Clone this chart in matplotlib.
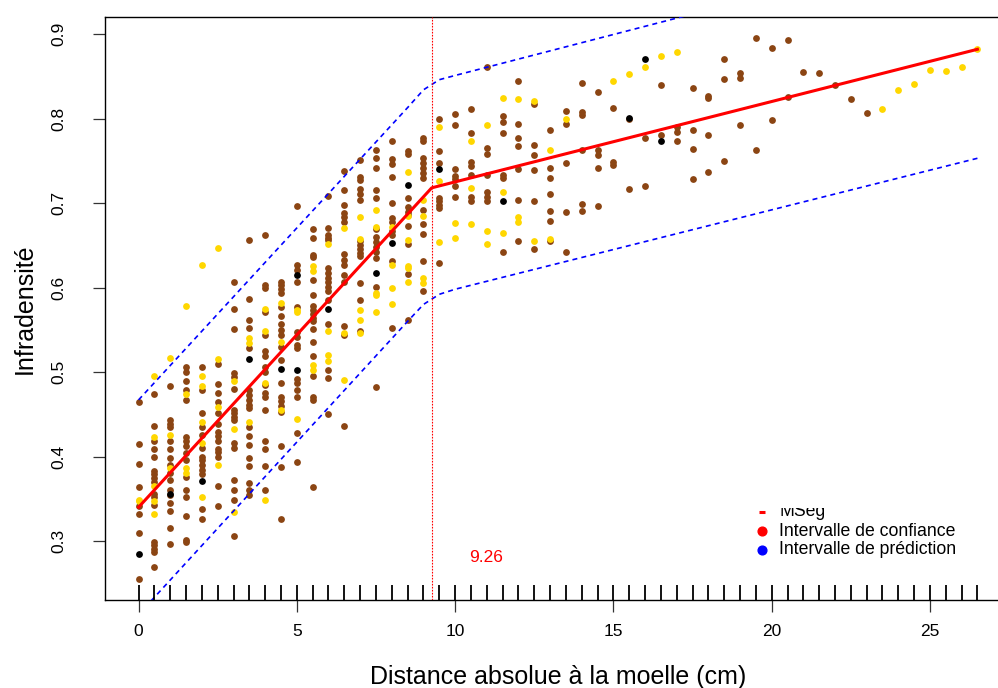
import numpy as np
import matplotlib
matplotlib.use("Agg")
import matplotlib.pyplot as plt
from matplotlib.patches import Rectangle
import matplotlib.transforms as mtransforms

plt.rcParams['font.family'] = ['Liberation Sans', 'DejaVu Sans']

# ---------------- data ----------------
brown = {
    0.0: [0.465, 0.415, 0.391, 0.364, 0.341, 0.332, 0.310, 0.255],
    0.5: [0.474, 0.436, 0.418, 0.409, 0.399, 0.383, 0.379, 0.374, 0.370, 0.356, 0.352, 0.343, 0.299, 0.295, 0.290, 0.287, 0.269],
    1.0: [0.484, 0.443, 0.439, 0.435, 0.418, 0.409, 0.398, 0.390, 0.380, 0.372, 0.360, 0.354, 0.345, 0.335, 0.316, 0.297],
    1.5: [0.506, 0.500, 0.489, 0.479, 0.467, 0.423, 0.418, 0.412, 0.404, 0.396, 0.376, 0.360, 0.352, 0.330, 0.301, 0.299],
    2.0: [0.506, 0.479, 0.451, 0.435, 0.425, 0.410, 0.400, 0.396, 0.390, 0.384, 0.379, 0.338, 0.326],
    2.5: [0.510, 0.486, 0.475, 0.464, 0.451, 0.439, 0.429, 0.424, 0.418, 0.409, 0.405, 0.399, 0.365, 0.341],
    3.0: [0.607, 0.575, 0.551, 0.499, 0.494, 0.480, 0.455, 0.451, 0.447, 0.443, 0.416, 0.410, 0.372, 0.360, 0.349, 0.306],
    3.5: [0.656, 0.587, 0.561, 0.552, 0.529, 0.479, 0.473, 0.467, 0.461, 0.457, 0.435, 0.424, 0.414, 0.398, 0.389, 0.369, 0.360, 0.355],
    4.0: [0.662, 0.603, 0.599, 0.571, 0.544, 0.525, 0.519, 0.506, 0.500, 0.485, 0.475, 0.470, 0.455, 0.418, 0.409, 0.389, 0.360],
    4.5: [0.607, 0.603, 0.598, 0.593, 0.577, 0.566, 0.557, 0.550, 0.544, 0.530, 0.514, 0.487, 0.471, 0.466, 0.460, 0.453, 0.412, 0.388, 0.326],
    5.0: [0.696, 0.627, 0.621, 0.607, 0.577, 0.547, 0.541, 0.532, 0.528, 0.492, 0.487, 0.479, 0.471, 0.428, 0.393],
    5.5: [0.669, 0.659, 0.639, 0.636, 0.609, 0.591, 0.578, 0.573, 0.569, 0.564, 0.560, 0.551, 0.536, 0.519, 0.495, 0.470, 0.467, 0.364],
    6.0: [0.708, 0.671, 0.662, 0.659, 0.656, 0.623, 0.617, 0.611, 0.606, 0.601, 0.596, 0.585, 0.557, 0.502, 0.493, 0.450],
    6.5: [0.738, 0.715, 0.698, 0.688, 0.683, 0.678, 0.640, 0.633, 0.627, 0.615, 0.606, 0.554, 0.544, 0.436],
    7.0: [0.751, 0.731, 0.727, 0.717, 0.711, 0.704, 0.655, 0.650, 0.646, 0.641, 0.637, 0.605, 0.585, 0.548],
    7.5: [0.763, 0.753, 0.741, 0.716, 0.706, 0.669, 0.660, 0.654, 0.648, 0.642, 0.635, 0.601, 0.482],
    8.0: [0.774, 0.752, 0.746, 0.731, 0.700, 0.682, 0.678, 0.667, 0.662, 0.631, 0.552],
    8.5: [0.762, 0.758, 0.706, 0.695, 0.690, 0.686, 0.673, 0.652, 0.616, 0.561],
    9.0: [0.777, 0.773, 0.753, 0.747, 0.741, 0.735, 0.730, 0.692, 0.675, 0.663, 0.631, 0.596],
    9.5: [0.800, 0.762, 0.747, 0.706, 0.702, 0.698, 0.694, 0.629],
    10.0: [0.805, 0.792, 0.740, 0.732, 0.728, 0.720, 0.707],
    10.5: [0.811, 0.783, 0.749, 0.744, 0.733, 0.707, 0.702],
    11.0: [0.861, 0.765, 0.758, 0.733, 0.713, 0.707, 0.702],
    11.5: [0.803, 0.796, 0.783, 0.733, 0.730, 0.642],
    12.0: [0.844, 0.794, 0.777, 0.767, 0.740, 0.704, 0.655],
    12.5: [0.817, 0.769, 0.757, 0.739, 0.702, 0.646],
    13.0: [0.786, 0.742, 0.730, 0.711, 0.691, 0.679, 0.655],
    13.5: [0.809, 0.793, 0.747, 0.690, 0.642],
    14.0: [0.842, 0.808, 0.804, 0.763, 0.699, 0.691],
    14.5: [0.832, 0.763, 0.757, 0.741, 0.697],
    15.0: [0.813, 0.749, 0.745],
    15.5: [0.799, 0.717],
    16.0: [0.777, 0.720],
    16.5: [0.840, 0.781],
    17.0: [0.790, 0.784, 0.773],
    17.5: [0.836, 0.786, 0.764, 0.728],
    18.0: [0.827, 0.824, 0.781, 0.737],
    18.5: [0.870, 0.847, 0.750],
    19.0: [0.854, 0.848, 0.792],
    19.5: [0.895, 0.763],
    20.0: [0.884, 0.798],
    20.5: [0.893, 0.825],
    21.0: [0.855],
    21.5: [0.854],
    22.0: [0.840],
    22.5: [0.823],
    23.0: [0.806],
}

yellow = {
    0.0: [0.349, 0.347],
    0.5: [0.495, 0.423, 0.365, 0.347, 0.332],
    1.0: [0.517, 0.426, 0.386],
    1.5: [0.578, 0.474, 0.387, 0.380],
    2.0: [0.627, 0.495, 0.483, 0.441, 0.416, 0.352],
    2.5: [0.647, 0.515, 0.459, 0.390],
    3.0: [0.489, 0.432, 0.334],
    3.5: [0.540, 0.534, 0.441],
    4.0: [0.575, 0.549, 0.487, 0.349],
    4.5: [0.582, 0.536, 0.455],
    5.0: [0.573, 0.571, 0.445],
    5.5: [0.625, 0.620, 0.508, 0.503],
    6.0: [0.652, 0.549, 0.520, 0.513],
    6.5: [0.670, 0.546, 0.491],
    7.0: [0.684, 0.658, 0.573, 0.562, 0.546],
    7.5: [0.692, 0.672, 0.594, 0.591, 0.571],
    8.0: [0.672, 0.627, 0.599, 0.580],
    8.5: [0.737, 0.685, 0.656, 0.626, 0.623, 0.606],
    9.0: [0.704, 0.685, 0.611, 0.605],
    9.5: [0.790, 0.726, 0.654],
    10.0: [0.676, 0.659],
    10.5: [0.774, 0.718, 0.675],
    11.0: [0.792, 0.667, 0.652],
    11.5: [0.824, 0.713, 0.665],
    12.0: [0.823, 0.684, 0.677],
    12.5: [0.821, 0.655],
    13.0: [0.763, 0.657],
    13.5: [0.800],
    15.0: [0.844],
    15.5: [0.853],
    16.0: [0.861],
    16.5: [0.874],
    17.0: [0.879],
    23.5: [0.811],
    24.0: [0.834],
    24.5: [0.841],
    25.0: [0.858],
    25.5: [0.856],
    26.0: [0.861],
    26.5: [0.882],
}

black = {
    0.0: [0.285],
    1.0: [0.356],
    2.0: [0.371],
    3.5: [0.516],
    4.5: [0.504],
    5.0: [0.615, 0.502],
    6.0: [0.575],
    7.5: [0.617],
    8.0: [0.653],
    8.5: [0.721],
    9.5: [0.740],
    11.5: [0.702],
    15.5: [0.801],
    16.0: [0.870],
    16.5: [0.773],
}

# segmented regression fit and prediction interval
seg_x = [0.0, 9.26, 26.5]
seg_y = [0.340, 0.718, 0.882]
band_x = [0.0, 8.5, 9.0, 9.5, 10.0, 26.5]
band_upper = [0.467, 0.813, 0.834, 0.846, 0.851, 1.011]
band_lower = [0.213, 0.560, 0.580, 0.592, 0.598, 0.753]
breakpoint_x = 9.26
breakpoint_label = "9.26"

x_ticks = [0, 5, 10, 15, 20, 25]
y_ticks = [0.3, 0.4, 0.5, 0.6, 0.7, 0.8, 0.9]
x_title = "Distance absolue à la moelle (cm)"
y_title = "Infradensité"
legend_labels = ["MSeg", "Intervalle de confiance", "Intervalle de prédiction"]
legend_colors = ["#FF0000", "#FF0000", "#0000FF"]
legend_markers = ["_", "o", "o"]


def flatten(d):
    xs, ys = [], []
    for k, v in d.items():
        xs.extend([k] * len(v))
        ys.extend(v)
    return np.array(xs), np.array(ys)


bx, by = flatten(brown)
yx, yy = flatten(yellow)
kx, ky = flatten(black)
rug_x = np.unique(np.concatenate([bx, yx, kx]))

# ---------------- figure ----------------
W, H = 998, 688
fig = plt.figure(figsize=(W / 100, H / 100), dpi=100)
L, R, T, B = 105, 1011, 17, 600
ax = fig.add_axes([L / W, 1 - B / H, (R - L) / W, (B - T) / H])
ax.set_xlim(-1.06, 27.56)
ax.set_ylim(0.2302, 0.9202)

ax.scatter(bx, by, s=24, color="#8B4513", linewidths=0, zorder=2)
ax.scatter(yx, yy, s=24, color="#FFD700", linewidths=0, zorder=2)
ax.scatter(kx, ky, s=24, color="#000000", linewidths=0, zorder=2)

ax.plot(band_x, band_upper, color="#0000FF", lw=1.2, ls=(0, (3, 2.5)), zorder=3)
ax.plot(band_x, band_lower, color="#0000FF", lw=1.2, ls=(0, (3, 2.5)), zorder=3)
ax.plot(seg_x, seg_y, color="#FF0000", lw=2.2, zorder=4)
ax.axvline(breakpoint_x, color="#FF0000", lw=0.8, ls=(0, (1.5, 1.2)), zorder=3)

# rug
trans = mtransforms.blended_transform_factory(ax.transData, ax.transAxes)
ax.vlines(rug_x, 0, 15 / (B - T), transform=trans, color="black", lw=1.3, zorder=3)

ax.text(10.97, 0.280, breakpoint_label, color="#FF0000", fontsize=12.5,
        ha="center", va="center")

# legend (manual, R style)
rows_y = [(B - 512) / (B - T), (B - 531) / (B - T), (B - 550) / (B - T)]
for lab, col, mk, ry in zip(legend_labels, legend_colors, legend_markers, rows_y):
    if mk == "_":
        ax.plot([(762 - L) / (R - L)], [ry], marker="_", ms=5, mew=2.2,
                color=col, transform=ax.transAxes, clip_on=False, zorder=6,
                ls="none")
    else:
        ax.plot([(762 - L) / (R - L)], [ry], marker="o", ms=6.3, color=col,
                transform=ax.transAxes, clip_on=False, zorder=6, ls="none")
    ax.text((779 - L) / (R - L), ry, lab, transform=ax.transAxes,
            fontsize=12.7, ha="left", va="center", zorder=6)
# white area overlapping the top of the legend
ax.add_patch(Rectangle((0.70, (B - 508) / (B - T)), 0.29, 0.12,
                       transform=ax.transAxes, facecolor="white",
                       edgecolor="none", zorder=7))

ax.set_xticks(x_ticks)
ax.set_xticklabels([str(t) for t in x_ticks])
ax.set_yticks(y_ticks)
ax.set_yticklabels([f"{t:.1f}" for t in y_ticks], rotation=90, va="center")
ax.tick_params(axis="both", direction="out", length=8.5, width=0.9,
               color="#333333", labelsize=12.5)
ax.tick_params(axis="x", pad=9)
ax.tick_params(axis="y", pad=19)

for sp in ax.spines.values():
    sp.set_linewidth(1.0)
    sp.set_color("black")

ax.set_xlabel(x_title, fontsize=18, va="baseline")
ax.xaxis.set_label_coords(0.5, -(684 - B) / (B - T))
ax.set_ylabel(y_title, fontsize=18, va="baseline")
ax.yaxis.set_label_coords(-(L - 32) / (R - L), 0.5)

fig.savefig("out.png", dpi=100)
